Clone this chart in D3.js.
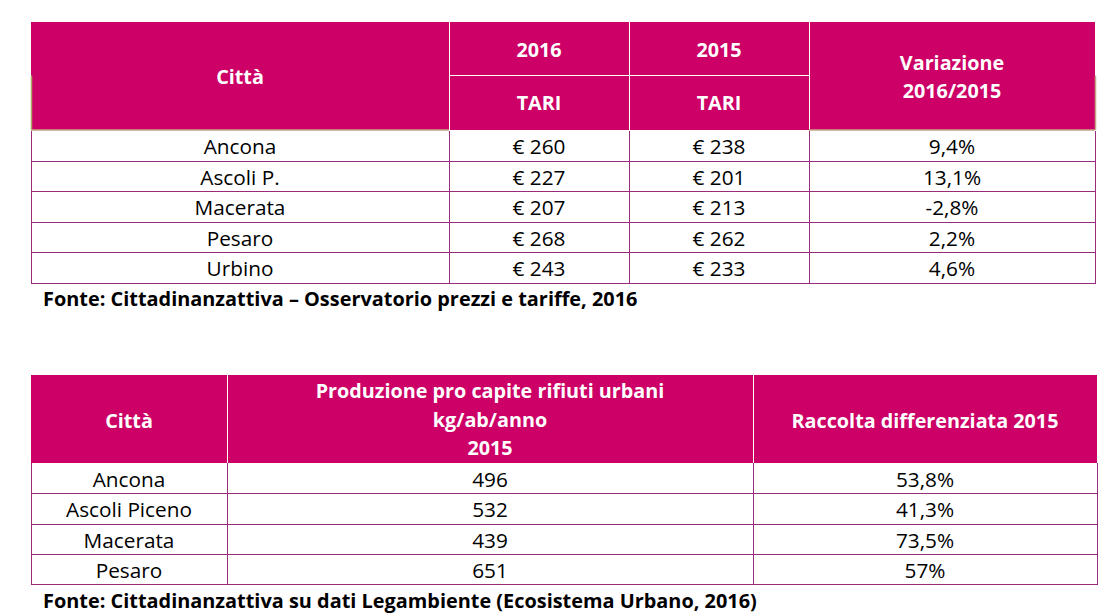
<!DOCTYPE html>
<html><head><meta charset="utf-8">
<script src="https://cdn.jsdelivr.net/npm/d3@7/dist/d3.min.js"></script>
<style>
html,body{margin:0;padding:0;background:#fff;}
svg text{font-family:"Open Sans",sans-serif;}
</style></head>
<body><svg id="c" width="1115" height="614"></svg>
<script>
// ---- Data: table 1 ----
const cities1 = ["Ancona","Ascoli P.","Macerata","Pesaro","Urbino"];
const tari2016 = [260,227,207,268,243];
const tari2015 = [238,201,213,262,233];
const variazione = ["9,4%","13,1%","-2,8%","2,2%","4,6%"];
const source1 = "Fonte: Cittadinanzattiva – Osservatorio prezzi e tariffe, 2016";
// ---- Data: table 2 ----
const cities2 = ["Ancona","Ascoli Piceno","Macerata","Pesaro"];
const produzione = [496,532,439,651];
const raccolta = ["53,8%","41,3%","73,5%","57%"];
const source2 = "Fonte: Cittadinanzattiva su dati Legambiente (Ecosistema Urbano, 2016)";

// ---- Layout ----
const MAG = "#CC0066", BORDER = "#9A2A7C", OLIVE = "#A8A865", TAN = "#C4A684";
const svg = d3.select("#c");

// fit font sizes to the widths measured on the reference
function fitSize(txt, weight, target){
  const t = svg.append("text").attr("font-size",100).attr("font-weight",weight).text(txt);
  const w = t.node().getComputedTextLength(); t.remove();
  return 100*target/w;
}
const FS_H = fitSize("Raccolta differenziata 2015","bold",267);
const FS_D = fitSize("Ascoli Piceno","normal",126);
const FS_S = fitSize(source1,"bold",595);

function cellText(g, x, y, txt, bold, fill){
  g.append("text").attr("x", x).attr("y", y).attr("text-anchor","middle")
   .attr("dominant-baseline","central")
   .attr("font-size", bold?FS_H:FS_D).attr("font-weight", bold?"bold":"normal")
   .attr("fill", fill).text(txt);
}

// ===== Table 1 =====
{
  const g = svg.append("g");
  const colEdges = [31,449,629,809,1095];
  const hTop = 22, hMid = 75.5, hBot = 130;
  const y = d3.scaleBand().domain(cities1).range([hBot, 282.5]);
  g.append("rect").attr("x",colEdges[0]).attr("y",hTop).attr("width",colEdges[4]-colEdges[0]).attr("height",hBot-hTop).attr("fill",MAG);
  [1,2,3].forEach(i=>g.append("line").attr("x1",colEdges[i]+0.5).attr("x2",colEdges[i]+0.5).attr("y1",hTop).attr("y2",hBot).attr("stroke","#fff"));
  g.append("line").attr("x1",colEdges[1]).attr("x2",colEdges[3]).attr("y1",hMid).attr("y2",hMid).attr("stroke","#fff");
  g.append("line").attr("x1",colEdges[0]+0.5).attr("x2",colEdges[0]+0.5).attr("y1",hMid).attr("y2",hBot).attr("stroke",OLIVE).attr("stroke-width",1.5);
  g.append("line").attr("x1",colEdges[4]+0.5).attr("x2",colEdges[4]+0.5).attr("y1",hMid).attr("y2",hBot).attr("stroke",TAN).attr("stroke-width",1.5);
  g.append("line").attr("x1",colEdges[0]).attr("x2",colEdges[1]).attr("y1",hBot).attr("y2",hBot).attr("stroke",TAN).attr("stroke-width",1.5);
  g.append("line").attr("x1",colEdges[3]).attr("x2",colEdges[4]).attr("y1",hBot).attr("y2",hBot).attr("stroke",TAN).attr("stroke-width",1.5);
  const cx = i => (colEdges[i]+colEdges[i+1])/2;
  cellText(g, cx(0), 76, "Città", true, "#fff");
  cellText(g, cx(1), 49, "2016", true, "#fff");
  cellText(g, cx(2), 49, "2015", true, "#fff");
  cellText(g, cx(1), 102, "TARI", true, "#fff");
  cellText(g, cx(2), 102, "TARI", true, "#fff");
  cellText(g, cx(3), 62, "Variazione", true, "#fff");
  cellText(g, cx(3), 90, "2016/2015", true, "#fff");
  cities1.forEach((c,i)=>{
    const y0 = y(c), y1 = y0 + y.bandwidth();
    g.append("line").attr("x1",colEdges[0]).attr("x2",colEdges[4]+1).attr("y1",Math.round(y1)+0.5).attr("y2",Math.round(y1)+0.5).attr("stroke",BORDER);
    const ym = (y0+y1)/2 + 1;
    cellText(g, cx(0), ym, c, false, "#000");
    cellText(g, cx(1), ym, "€ "+tari2016[i], false, "#000");
    cellText(g, cx(2), ym, "€ "+tari2015[i], false, "#000");
    cellText(g, cx(3), ym, variazione[i], false, "#000");
  });
  colEdges.forEach(x=>g.append("line").attr("x1",x+0.5).attr("x2",x+0.5).attr("y1",hBot+1).attr("y2",283).attr("stroke",BORDER));
  g.append("text").attr("x",43).attr("y",298).attr("dominant-baseline","central").attr("font-size",FS_S).attr("font-weight","bold").attr("fill","#000").text(source1);
}

// ===== Table 2 =====
{
  const g = svg.append("g");
  const colEdges = [31,227,753,1097];
  const hTop = 375, hBot = 463;
  const y = d3.scaleBand().domain(cities2).range([hBot, 584]);
  g.append("rect").attr("x",colEdges[0]).attr("y",hTop).attr("width",colEdges[3]-colEdges[0]).attr("height",hBot-hTop).attr("fill",MAG);
  [1,2].forEach(i=>g.append("line").attr("x1",colEdges[i]+0.5).attr("x2",colEdges[i]+0.5).attr("y1",hTop).attr("y2",hBot).attr("stroke","#fff"));
  const cx = i => (colEdges[i]+colEdges[i+1])/2;
  cellText(g, cx(0), 420, "Città", true, "#fff");
  cellText(g, cx(1), 390, "Produzione pro capite rifiuti urbani", true, "#fff");
  cellText(g, cx(1), 419, "kg/ab/anno", true, "#fff");
  cellText(g, cx(1), 447, "2015", true, "#fff");
  cellText(g, cx(2), 420, "Raccolta differenziata 2015", true, "#fff");
  cities2.forEach((c,i)=>{
    const y0 = y(c), y1 = y0 + y.bandwidth();
    g.append("line").attr("x1",colEdges[0]).attr("x2",colEdges[3]+1).attr("y1",Math.round(y1)+0.5).attr("y2",Math.round(y1)+0.5).attr("stroke",BORDER);
    const ym = (y0+y1)/2 + 1;
    cellText(g, cx(0), ym, c, false, "#000");
    cellText(g, cx(1), ym, produzione[i], false, "#000");
    cellText(g, cx(2), ym, raccolta[i], false, "#000");
  });
  colEdges.forEach(x=>g.append("line").attr("x1",x+0.5).attr("x2",x+0.5).attr("y1",hBot).attr("y2",585).attr("stroke",BORDER));
  g.append("text").attr("x",43).attr("y",600).attr("dominant-baseline","central").attr("font-size",FS_S).attr("font-weight","bold").attr("fill","#000").text(source2);
}
</script></body></html>
